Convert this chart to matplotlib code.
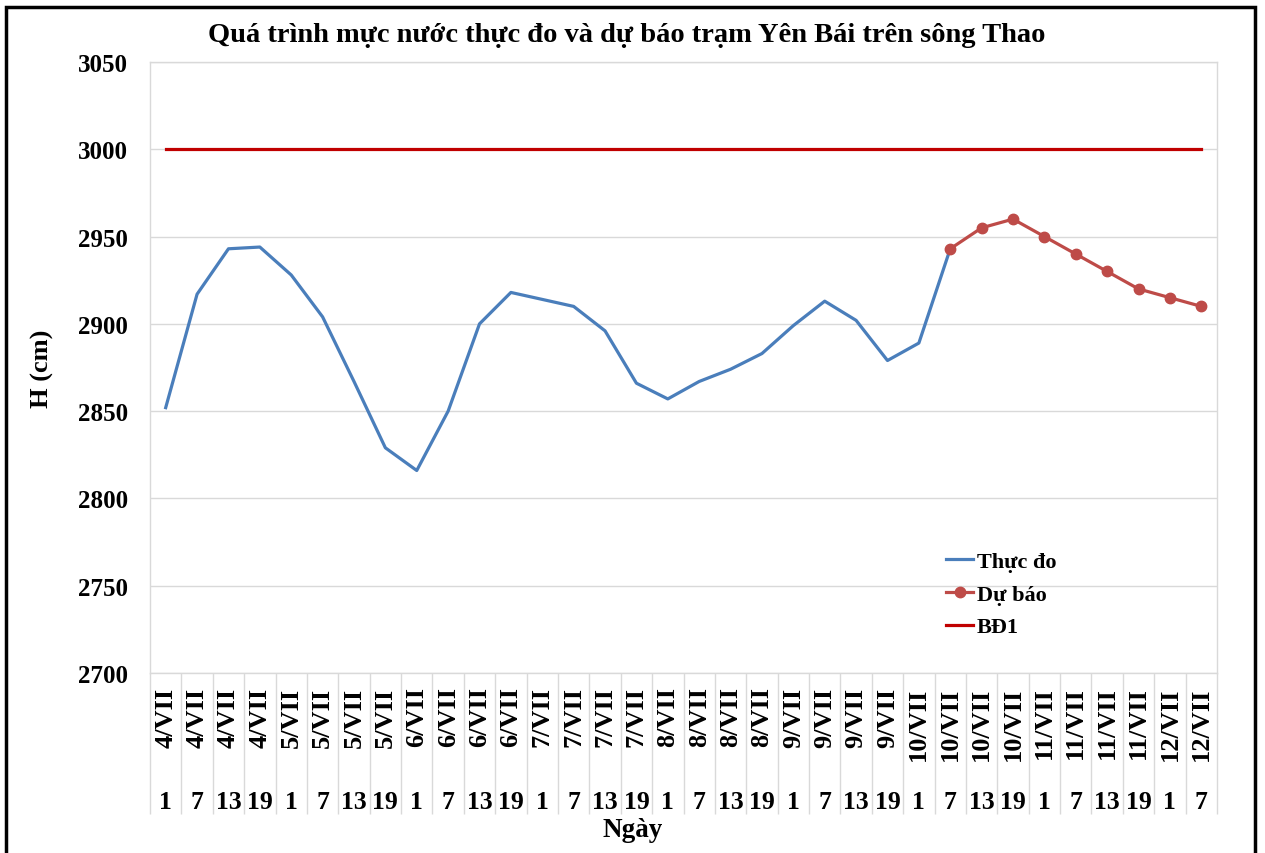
import numpy as np
import matplotlib
matplotlib.use('Agg')
import matplotlib.pyplot as plt
from matplotlib.patches import Rectangle

plt.rcParams['font.family'] = ['Liberation Serif', 'DejaVu Serif']
plt.rcParams['font.weight'] = 'bold'

# Data
days = ['4/VII'] * 4 + ['5/VII'] * 4 + ['6/VII'] * 4 + ['7/VII'] * 4 + \
       ['8/VII'] * 4 + ['9/VII'] * 4 + ['10/VII'] * 4 + ['11/VII'] * 4 + ['12/VII'] * 2
hours = ['1', '7', '13', '19'] * 8 + ['1', '7']

observed = [2852, 2917, 2943, 2944, 2928, 2904, 2867, 2829, 2816, 2850,
            2900, 2918, 2914, 2910, 2896, 2866, 2857, 2867, 2874, 2883,
            2899, 2913, 2902, 2879, 2889, 2943]
forecast = [2943, 2955, 2960, 2950, 2940, 2930, 2920, 2915, 2910]
forecast_start = 25
alarm_level = 3000

title = 'Quá trình mực nước thực đo và dự báo trạm Yên Bái trên sông Thao'

fig = plt.figure(figsize=(12.65, 8.54), dpi=100)
ax = fig.add_axes([150 / 1265, 1 - 674 / 854, (1217 - 150) / 1265, (674 - 63) / 854])

n = len(hours)
x = np.arange(n)
ax.plot(x[:len(observed)], observed, color='#4A7EBB', lw=2.3, label='Thực đo', zorder=3)
ax.plot(x[forecast_start:forecast_start + len(forecast)], forecast, color='#BE4B48', lw=2.3,
        marker='o', markersize=7.5, label='Dự báo', zorder=4)
ax.plot(x, [alarm_level] * n, color='#C00000', lw=2.3, label='BĐ1', zorder=3)

ax.set_xlim(-0.5, n - 0.5)
ax.set_ylim(2700, 3050)
ax.set_yticks(np.arange(2700, 3051, 50))
ax.tick_params(axis='y', length=0, pad=16, labelsize=18)
ax.set_xticks([])
ax.grid(axis='y', color='#D9D9D9', lw=1)
ax.set_axisbelow(True)
for s in ax.spines.values():
    s.set_color('#D9D9D9')
    s.set_linewidth(1)

# two-level category axis
tr = ax.get_xaxis_transform()
ax.vlines(np.arange(n + 1) - 0.5, -0.231, 0, transform=tr, colors='#D9D9D9', lw=1, clip_on=False)
for i in range(n):
    ax.text(x[i], -0.022, days[i], transform=tr, rotation=90, ha='center', va='top',
            fontsize=19, fontweight='bold')
    ax.text(x[i], -0.21, hours[i], transform=tr, ha='center', va='center',
            fontsize=18.5, fontweight='bold')

ax.set_ylabel('H (cm)', fontsize=19, fontweight='bold', labelpad=17)
fig.text(633 / 1265, 1 - 831 / 854, 'Ngày', ha='center', va='center', fontsize=19.5, fontweight='bold')
fig.text(627 / 1265, 1 - 35 / 854, title, ha='center', va='center', fontsize=20.5, fontweight='bold')

ax.legend(loc='upper left', bbox_to_anchor=(0.727, 0.232), frameon=False, fontsize=16,
          handlelength=1.25, handletextpad=0.15, labelspacing=0.55)

fig.add_artist(Rectangle((6 / 1265, -0.01), (1255 - 6) / 1265, 1.01 - 8 / 854,
                         transform=fig.transFigure, fill=False, edgecolor='black', lw=2.5))

fig.savefig('out.png', dpi=100)
